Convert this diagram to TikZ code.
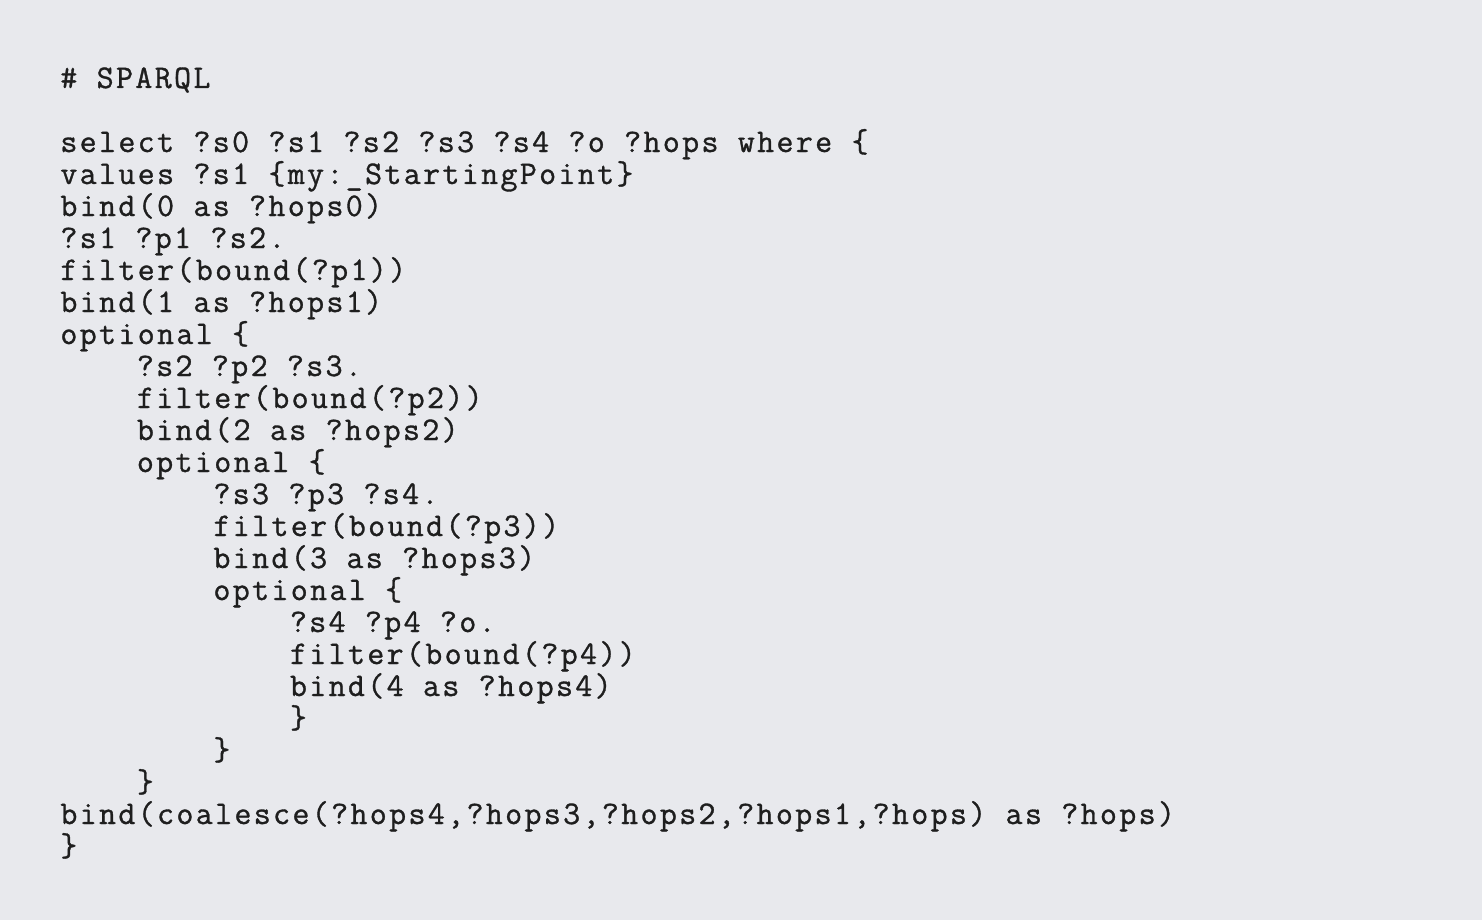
\documentclass[tikz,border=0pt]{standalone}
\usepackage{fontspec}
\newfontfamily\codefont[LetterSpace=7.1,FakeBold=1]{Latin Modern Mono}
\definecolor{bgcol}{HTML}{E8E9ED}
\definecolor{codetext}{HTML}{1E1E1E}
\frenchspacing
\begin{document}
\begin{tikzpicture}[x=0.5pt,y=-0.5pt,
  codeline/.style={anchor=base west, inner sep=0pt, font=\fontsize{16.5}{16.5}\selectfont\codefont, text=codetext}]
\fill[bgcol] (0,0) rectangle (1482,920);
\useasboundingbox (0,0) rectangle (1482,920);
\def\cw{19.13}
\node[codeline] (title) at (60,88) {\# SPARQL};
\node[codeline] (l0) at (60,152) {select ?s0 ?s1 ?s2 ?s3 ?s4 ?o ?hops where \{};
\node[codeline] (l1) at (60,184) {values ?s1 \{my:\_StartingPoint\}};
\node[codeline] (l2) at (60,216) {bind(0 as ?hops0)};
\node[codeline] (l3) at (60,248) {?s1 ?p1 ?s2.};
\node[codeline] (l4) at (60,280) {filter(bound(?p1))};
\node[codeline] (l5) at (60,312) {bind(1 as ?hops1)};
\node[codeline] (l6) at (60,344) {optional \{};
\node[codeline] (l7) at ({60+4*\cw},376) {?s2 ?p2 ?s3.};
\node[codeline] (l8) at ({60+4*\cw},408) {filter(bound(?p2))};
\node[codeline] (l9) at ({60+4*\cw},440) {bind(2 as ?hops2)};
\node[codeline] (l10) at ({60+4*\cw},472) {optional \{};
\node[codeline] (l11) at ({60+8*\cw},504) {?s3 ?p3 ?s4.};
\node[codeline] (l12) at ({60+8*\cw},536) {filter(bound(?p3))};
\node[codeline] (l13) at ({60+8*\cw},568) {bind(3 as ?hops3)};
\node[codeline] (l14) at ({60+8*\cw},600) {optional \{};
\node[codeline] (l15) at ({60+12*\cw},632) {?s4 ?p4 ?o.};
\node[codeline] (l16) at ({60+12*\cw},664) {filter(bound(?p4))};
\node[codeline] (l17) at ({60+12*\cw},696) {bind(4 as ?hops4)};
\node[codeline] (l18) at ({60+12*\cw},728) {\}};
\node[codeline] (l19) at ({60+8*\cw},760) {\}};
\node[codeline] (l20) at ({60+4*\cw},792) {\}};
\node[codeline] (l21) at (60,824) {bind(coalesce(?hops4,?hops3,?hops2,?hops1,?hops) as ?hops)};
\node[codeline] (l22) at (60,856) {\}};
\end{tikzpicture}
\end{document}
